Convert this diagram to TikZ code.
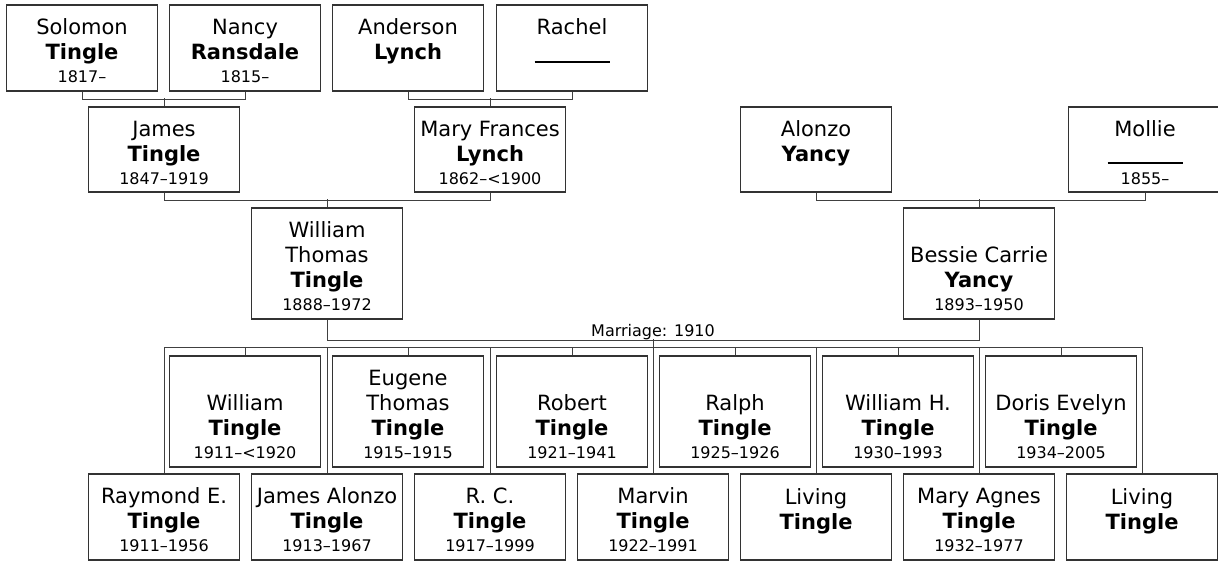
\documentclass[tikz,border=0pt]{standalone}
\usepackage{fontspec}
\setmainfont{DejaVu Sans}
\newcommand{\yrs}[1]{{\fontsize{16}{19}\selectfont #1}}
\newcommand{\blank}{\rule[-3pt]{75pt}{2.2pt}}
\newcommand{\rowstrut}{\rule{0pt}{22pt}}

\begin{document}
\begin{tikzpicture}[x=1pt, y=-1pt,
  person/.style={draw=black!80, line width=1.3pt, fill=white,
                 minimum width=151pt, minimum height=#1, align=center,
                 inner sep=0pt, font=\fontsize{21}{25}\selectfont},
  person/.default=86pt,
  link/.style={draw=black!75, line width=1pt},
  note/.style={font=\fontsize{16}{19}\selectfont, anchor=base},
]
\useasboundingbox (0,0) rectangle (1218,561);

% --- great-grandparents ---
\node[person] (solomon) at (82,48) {\rowstrut Solomon\\\textbf{Tingle}\\[-2pt]\yrs{1817–}};
\node[person] (nancy) at (245,48) {\rowstrut Nancy\\\textbf{Ransdale}\\[-2pt]\yrs{1815–}};
\node[person] (anderson) at (408,48) {\rowstrut Anderson\\\textbf{Lynch}\\[-2pt]\yrs{~}};
\node[person] (rachel) at (572,48) {\rowstrut Rachel\\\blank\\[-2pt]\yrs{~}};

% --- grandparents ---
\node[person=85pt] (james) at (164,149.5) {\rowstrut James\\\textbf{Tingle}\\[-2pt]\yrs{1847–1919}};
\node[person=85pt] (maryf) at (490,149.5) {\rowstrut Mary Frances\\\textbf{Lynch}\\[-2pt]\yrs{1862–<1900}};
\node[person=85pt] (alonzo) at (816,149.5) {\rowstrut Alonzo\\\textbf{Yancy}\\[-2pt]\yrs{~}};
\node[person=85pt, minimum width=153pt] (mollie) at (1145,149.5) {\rowstrut Mollie\\\blank\\[-2pt]\yrs{1855–}};

% --- parents ---
\node[person=111pt] (wthomas) at (327,263.5) {\rowstrut William\\Thomas\\\textbf{Tingle}\\[-2pt]\yrs{1888–1972}};
\node[person=111pt] (bessie) at (979,263.5) {\rowstrut\\Bessie Carrie\\\textbf{Yancy}\\[-2pt]\yrs{1893–1950}};
\node[note] (wed) at (653,336) {Marriage: 1910};

% --- children, upper row ---
\node[person=111pt] (william) at (245,411.5) {\rowstrut\\William\\\textbf{Tingle}\\[-2pt]\yrs{1911–<1920}};
\node[person=111pt] (eugene) at (408,411.5) {\rowstrut Eugene\\Thomas\\\textbf{Tingle}\\[-2pt]\yrs{1915–1915}};
\node[person=111pt] (robert) at (572,411.5) {\rowstrut\\Robert\\\textbf{Tingle}\\[-2pt]\yrs{1921–1941}};
\node[person=111pt] (ralph) at (735,411.5) {\rowstrut\\Ralph\\\textbf{Tingle}\\[-2pt]\yrs{1925–1926}};
\node[person=111pt] (williamh) at (898,411.5) {\rowstrut\\William H.\\\textbf{Tingle}\\[-2pt]\yrs{1930–1993}};
\node[person=111pt] (doris) at (1061,411.5) {\rowstrut\\Doris Evelyn\\\textbf{Tingle}\\[-2pt]\yrs{1934–2005}};

% --- children, lower row ---
\node[person] (raymond) at (164,517) {\rowstrut Raymond E.\\\textbf{Tingle}\\[-2pt]\yrs{1911–1956}};
\node[person] (jamesa) at (327,517) {\rowstrut James Alonzo\\\textbf{Tingle}\\[-2pt]\yrs{1913–1967}};
\node[person] (rc) at (490,517) {\rowstrut R. C.\\\textbf{Tingle}\\[-2pt]\yrs{1917–1999}};
\node[person] (marvin) at (653,517) {\rowstrut Marvin\\\textbf{Tingle}\\[-2pt]\yrs{1922–1991}};
\node[person] (livinga) at (816,517) {\rowstrut Living\\\textbf{Tingle}\\[-2pt]\yrs{~}};
\node[person] (maryagnes) at (979,517) {\rowstrut Mary Agnes\\\textbf{Tingle}\\[-2pt]\yrs{1932–1977}};
\node[person] (livingb) at (1142,517) {\rowstrut Living\\\textbf{Tingle}\\[-2pt]\yrs{~}};

% couples to their child
\draw[link] (solomon.south) -- ++(0,8) -| (nancy.south);
\draw[link] (james.north) -- ++(0,-8);
\draw[link] (anderson.south) -- ++(0,8) -| (rachel.south);
\draw[link] (maryf.north) -- ++(0,-8);
\draw[link] (alonzo.south) -- ++(0,8) -| (mollie.south);
\draw[link] (bessie.north) -- ++(0,-8);
\draw[link] (james.south) -- ++(0,8) -| (maryf.south);
\draw[link] (wthomas.north) -- ++(0,-8);

% marriage line and the children's frame
\draw[link] (wthomas.south) -- ++(0,21) -| (bessie.south);
\draw[link] (raymond.north) -- ++(0,-126) -| (livingb.north);
\draw[link] (marvin.north) -- ++(0,-134);
\foreach \kid in {jamesa, rc, livinga, maryagnes}
  \draw[link] (\kid.north) -- ++(0,-126);
\foreach \kid in {william, eugene, robert, ralph, williamh, doris}
  \draw[link] (\kid.north) -- ++(0,-8);
\end{tikzpicture}
\end{document}
